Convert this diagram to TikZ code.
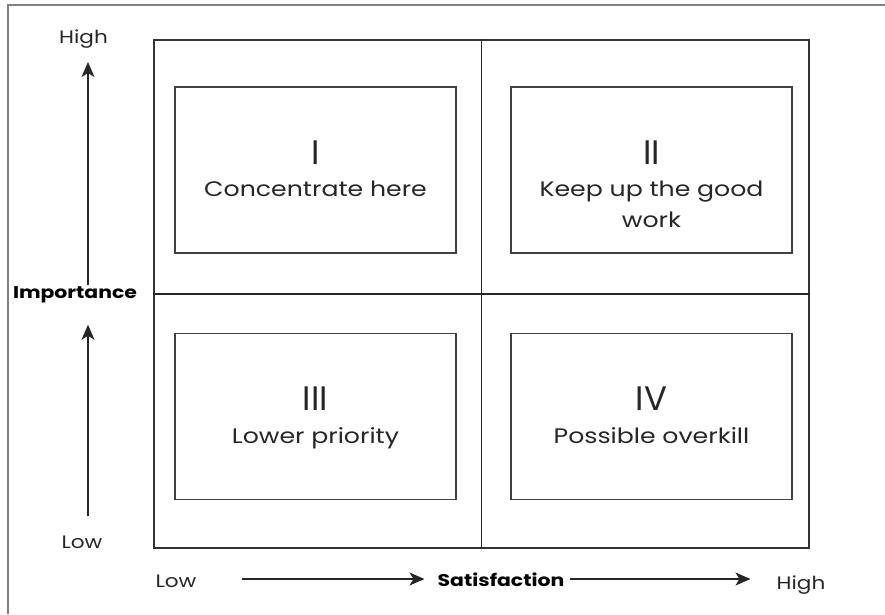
\documentclass[tikz,border=0pt]{standalone}
\usepackage{fontspec}
\setmainfont{Poppins}[FakeStretch=1.2]
\newfontfamily\numfont{Poppins}
\usetikzlibrary{arrows.meta,positioning}

\begin{document}
\begin{tikzpicture}[x=1pt,y=-1pt,
    quad/.style={draw=black!75, line width=1.5pt, minimum width=281pt, minimum height=166pt, inner sep=0pt},
    numeral/.style={font=\numfont\fontsize{34}{34}\selectfont, text=black!85, inner sep=0pt},
    desc/.style={font=\fontsize{21}{31}\selectfont, text=black!85, align=center, inner sep=0pt},
    axlabel/.style={font=\fontsize{18}{22}\selectfont, text=black!85, inner sep=0pt},
    axtitle/.style={font=\fontsize{17}{22}\selectfont\bfseries, text=black, inner sep=0pt},
    axarrow/.style={-{Stealth[length=15pt,width=13pt,inset=4pt]}, line width=1.5pt, black!85}]
        \useasboundingbox (0,0) rectangle (885,614);
        % outer frame (only top and left are visible)
        \draw[black!50, line width=2.5pt] (8,614) -- (8,5) -- (885,5);
        % matrix
        \node[draw=black!80, line width=2pt, minimum width=655pt, minimum height=508pt, inner sep=0pt] (grid) at (481.5,294) {};
        \draw[black!85, line width=1.8pt] (grid.north) -- (grid.south);
        \draw[black!85, line width=1.8pt] (grid.west) -- (grid.east);
        % quadrants
        \foreach \name/\x/\y/\num/\txt in {q1/315.5/170/I/Concentrate here,
                                           q2/651.5/170/II/Keep up the good\\work,
                                           q3/315.5/416.5/III/Lower priority,
                                           q4/651.5/416.5/IV/Possible overkill} {
          \node[quad] (\name) at (\x,\y) {};
          \node[numeral, anchor=base] (\name-num) at ([yshift=-78pt]\name.north) {\num};
          \node[desc, anchor=north] (\name-txt) at ([yshift=-95pt]\name.north) {\txt};
        }
        % axis labels
        \node[axlabel, anchor=base] (imphigh) at (83.5,43) {High};
        \node[axlabel, anchor=base] (implow) at (82,548) {Low};
        \node[axtitle, anchor=base] (imp) at (75,298) {Importance};
        \node[axlabel, anchor=base] (satlow) at (176,587) {Low};
        \node[axtitle, anchor=base] (sat) at (501,586) {Satisfaction};
        \node[axlabel, anchor=base] (sathigh) at (801,589) {High};
        \coordinate (axx) at (88,0);
        \coordinate (axy) at (0,579);
        % arrows
        \draw[axarrow, shorten <=1pt, shorten >=14pt] (imp.north -| axx) -- (imphigh.south -| axx);
        \draw[axarrow, shorten <=19pt, shorten >=22pt] (implow.north -| axx) -- (imp.south -| axx);
        \draw[axarrow, shorten <=45pt, shorten >=13pt] (satlow.east |- axy) -- (sat.west |- axy);
        \draw[axarrow, shorten <=5pt, shorten >=26pt] (sat.east |- axy) -- (sathigh.west |- axy);
\end{tikzpicture}
\end{document}
